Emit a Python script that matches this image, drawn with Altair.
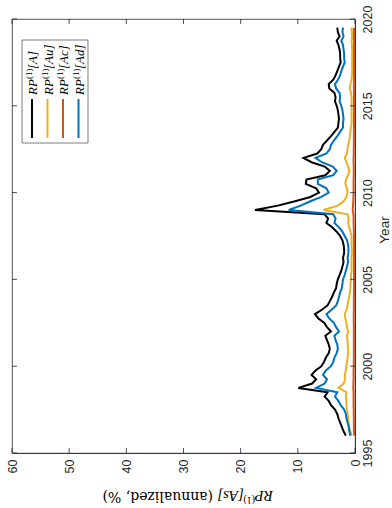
import altair as alt
import pandas as pd

# quarterly grid 1996.00 .. 2019.50
years = [1996 + 0.25 * i for i in range(95)]

A = [1.6, 2.0, 2.3, 2.6,  2.9, 3.1, 3.5, 4.2,  4.6, 5.3, 4.8, 9.9,  7.5, 6.8, 7.6, 6.9,
     5.9, 5.4, 5.1, 4.6,  4.4, 4.6, 4.9, 5.2,  4.2, 4.9, 5.4, 6.4,  7.0, 5.8, 4.8, 4.4,
     4.0, 3.7, 3.3, 3.2,  3.0, 2.7, 2.4, 2.2,  2.0, 2.1, 1.9, 1.9,  2.0, 2.2, 2.6, 3.2,
     4.0, 5.0, 4.7, 5.3,  17.5, 13.5, 10.5, 7.8,  6.3, 6.8, 8.6, 8.5,  5.2, 4.4, 5.3, 7.6,
     9.0, 6.6, 5.9, 5.6,  4.9, 4.2, 3.6, 3.0,  2.9, 2.8, 2.9, 3.0,  3.2, 3.5, 3.4, 3.6,
     4.5, 4.6, 3.8, 3.4,  3.1, 2.8, 2.5, 2.6,  2.6, 2.7, 2.9, 3.2,  2.7, 3.0, 3.1]

Au = [0.6, 0.8, 1.0, 1.1,  1.2, 1.3, 1.4, 1.5,  1.5, 1.6, 1.5, 2.9,  2.0, 1.7, 1.8, 1.6,
      1.5, 1.4, 1.3, 1.2,  1.2, 1.3, 1.3, 1.4,  1.2, 1.4, 1.5, 1.7,  1.8, 1.5, 1.3, 1.2,
      1.0, 0.9, 0.8, 0.8,  0.7, 0.7, 0.6, 0.6,  0.6, 0.6, 0.55, 0.55,  0.6, 0.6, 0.6, 0.8,
      1.0, 1.2, 1.1, 1.3,  5.5, 3.0, 2.0, 1.5,  1.3, 1.4, 1.7, 1.6,  1.2, 1.0, 1.2, 1.5,
      1.8, 1.4, 1.3, 1.2,  1.0, 0.9, 0.8, 0.7,  0.6, 0.6, 0.6, 0.6,  0.6, 0.6, 0.6, 0.7,
      0.9, 0.8, 0.6, 0.55,  0.5, 0.5, 0.5, 0.5,  0.5, 0.5, 0.55, 0.6,  0.5, 0.55, 0.6]

Ac = [0.15, 0.18, 0.2, 0.2,  0.2, 0.22, 0.22, 0.25,  0.25, 0.25, 0.25, 0.3,  0.28, 0.25, 0.25, 0.25,
      0.22, 0.22, 0.2, 0.2,  0.2, 0.2, 0.2, 0.2,  0.2, 0.2, 0.22, 0.22,  0.22, 0.2, 0.2, 0.2,
      0.2, 0.18, 0.18, 0.18,  0.17, 0.17, 0.17, 0.17,  0.17, 0.17, 0.17, 0.17,  0.17, 0.17, 0.18, 0.2,
      0.22, 0.25, 0.25, 0.28,  0.4, 0.35, 0.3, 0.28,  0.25, 0.25, 0.25, 0.25,  0.22, 0.22, 0.22, 0.25,
      0.25, 0.22, 0.22, 0.2,  0.2, 0.2, 0.2, 0.18,  0.18, 0.18, 0.18, 0.18,  0.18, 0.18, 0.18, 0.18,
      0.2, 0.2, 0.18, 0.18,  0.17, 0.17, 0.17, 0.17,  0.17, 0.17, 0.17, 0.18,  0.17, 0.17, 0.18]

Ad = [0.8, 1.0, 1.1, 1.3,  1.5, 1.6, 1.9, 2.5,  2.9, 3.5, 3.1, 6.8,  5.3, 4.9, 5.6, 5.1,
      4.2, 3.8, 3.6, 3.2,  3.0, 3.1, 3.4, 3.6,  2.8, 3.3, 3.7, 4.5,  5.0, 4.1, 3.3, 3.0,
      2.8, 2.6, 2.3, 2.2,  2.1, 1.8, 1.6, 1.4,  1.2, 1.3, 1.15, 1.15,  1.2, 1.4, 1.8, 2.2,
      2.8, 3.6, 3.4, 3.8,  11.6, 9.5, 7.8, 5.9,  4.6, 5.0, 6.5, 6.5,  3.8, 3.2, 3.9, 5.8,
      6.9, 5.0, 4.4, 4.2,  3.7, 3.1, 2.6, 2.1,  2.1, 2.0, 2.1, 2.2,  2.4, 2.7, 2.6, 2.7,
      3.3, 3.5, 3.0, 2.6,  2.4, 2.1, 1.8, 1.9,  1.9, 2.0, 2.1, 2.4,  2.0, 2.2, 2.1]

series_names = ["A", "Au", "Ac", "Ad"]
series_vals = [A, Au, Ac, Ad]
series_colors = ["#000000", "#EDB120", "#D95319", "#0072BD"]
legend_suffix = ["[A]", "[Au]", "[Ac]", "[Ad]"]

x_ticks = [0, 10, 20, 30, 40, 50, 60]
y_ticks = [1995, 2000, 2005, 2010, 2015, 2020]

W, H = 343, 434
AX = "#262626"

xscale = alt.Scale(domain=[0, 60], reverse=True, nice=False, zero=False)
yscale = alt.Scale(domain=[1995, 2020], nice=False, zero=False)

xaxis = alt.Axis(values=x_ticks, labelAngle=-90, labelAlign="right", labelBaseline="middle",
                 labelPadding=6, ticks=False, grid=False, title=None, domainColor=AX,
                 domainWidth=0.8, labelColor=AX, labelFont="Liberation Sans", labelFontSize=12.5,
                 labelFlush=False, labelOverlap=False)
yaxis = alt.Axis(orient="right", values=y_ticks, format="d", labelAngle=-90, labelAlign="center",
                 labelBaseline="top", labelPadding=6, ticks=False, grid=False, title=None,
                 domainColor=AX, domainWidth=0.8, labelColor=AX, labelFont="Liberation Sans",
                 labelFontSize=12.5, labelFlush=False, labelOverlap=False)

layers = []
for name, vals, col in zip(series_names, series_vals, series_colors):
    df = pd.DataFrame({"year": years, "value": vals})
    layers.append(
        alt.Chart(df).mark_line(color=col, strokeWidth=2, clip=True).encode(
            x=alt.X("value:Q", scale=xscale, axis=xaxis),
            y=alt.Y("year:Q", scale=yscale, axis=yaxis),
            order="year:Q",
        )
    )

xt = pd.DataFrame({"v": x_ticks})
yt = pd.DataFrame({"v": y_ticks})
tick_style = dict(color=AX, strokeWidth=0.8)
layers.append(alt.Chart(xt).mark_rule(**tick_style).encode(
    x=alt.X("v:Q", scale=xscale, axis=xaxis), y=alt.value(H), y2=alt.value(H - 5)))
layers.append(alt.Chart(xt).mark_rule(**tick_style).encode(
    x=alt.X("v:Q", scale=xscale, axis=xaxis), y=alt.value(0), y2=alt.value(5)))
layers.append(alt.Chart(yt).mark_rule(**tick_style).encode(
    y=alt.Y("v:Q", scale=yscale, axis=yaxis), x=alt.value(W), x2=alt.value(W - 5)))
layers.append(alt.Chart(yt).mark_rule(**tick_style).encode(
    y=alt.Y("v:Q", scale=yscale, axis=yaxis), x=alt.value(0), x2=alt.value(5)))

one = pd.DataFrame({"k": [0]})


def txt(text, x, y, angle, size, italic=False, font="Liberation Serif", color="black",
        align="left", baseline="middle"):
    kw = dict(text=text, angle=angle, align=align, baseline=baseline, font=font,
              fontSize=size, color=color)
    if italic:
        kw["fontStyle"] = "italic"
    return alt.Chart(one).mark_text(**kw).encode(x=alt.value(x), y=alt.value(y))


# legend box
layers.append(alt.Chart(one).mark_rect(fill="white", stroke=AX, strokeWidth=0.6).encode(
    x=alt.value(10), x2=alt.value(76), y=alt.value(21), y2=alt.value(124)))
for i, (suf, col) in enumerate(zip(legend_suffix, series_colors)):
    cx = 20 + 15.5 * i
    layers.append(alt.Chart(one).mark_rule(color=col, strokeWidth=2).encode(
        x=alt.value(cx), y=alt.value(80), y2=alt.value(119)))
    # rotated label, read bottom to top: "RP" + superscript "(1)" + suffix
    layers.append(txt("RP", cx + 1, 76, 270, 13, italic=True))
    layers.append(txt("(1)", cx - 3, 60, 270, 9))
    layers.append(txt(suf, cx + 1, 50, 270, 13, italic=True))

# axis titles
layers.append(txt("Year", 373, 211, 270, 13.5, font="Liberation Sans", color=AX, align="center"))

title_y = 477
layers.append(txt("RP", 261, title_y, 180, 15, italic=True))
layers.append(txt("(1)", 243, title_y + 4, 180, 10))
layers.append(txt("[As]", 232, title_y, 180, 15, italic=True))
layers.append(txt("(annualized, %)", 201, title_y, 180, 14, font="DejaVu Serif"))

chart = alt.layer(*layers).properties(
    width=W, height=H,
    padding={"left": 12, "top": 19, "right": 37, "bottom": 55},
    autosize=alt.AutoSizeParams(type="none"),
).configure_view(stroke=AX, strokeWidth=0.8)

chart.save("out.html", embed_options={"renderer": "svg", "actions": False})
